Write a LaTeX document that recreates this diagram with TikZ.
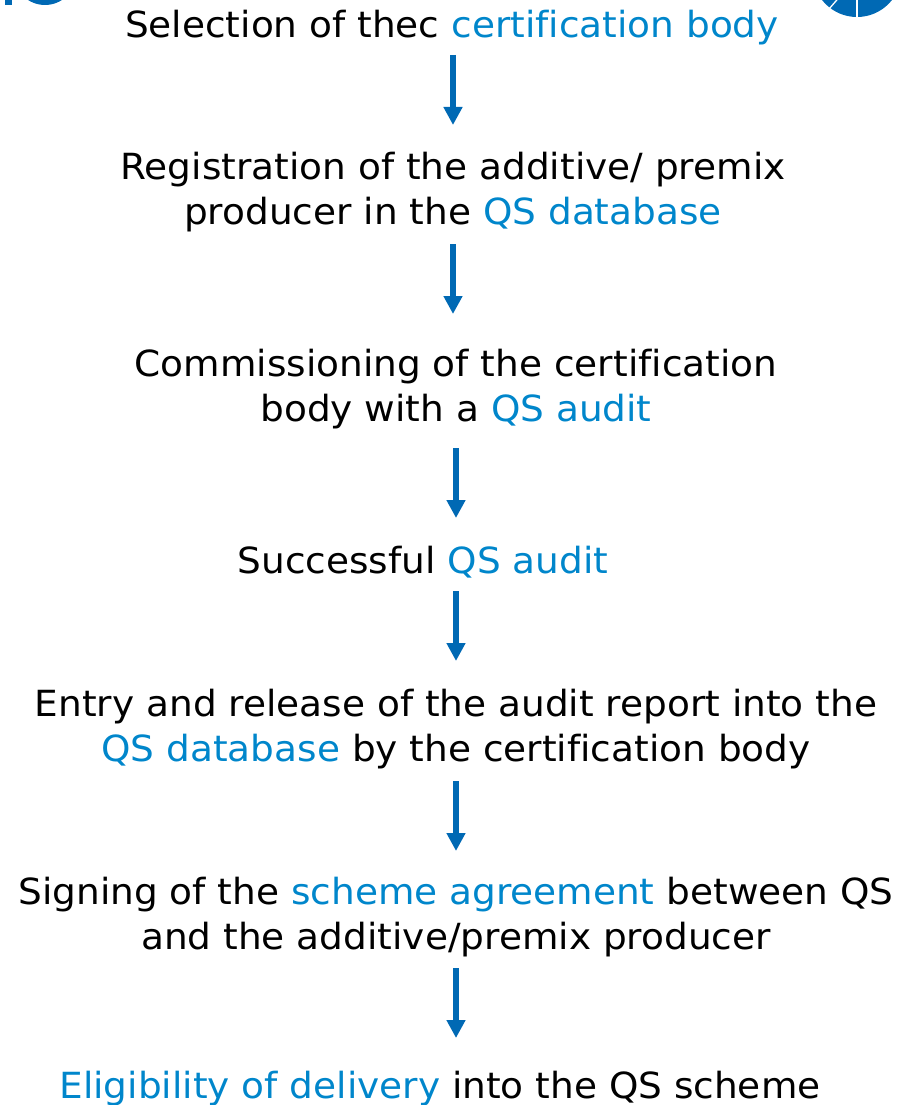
\documentclass[tikz,border=0pt]{standalone}
\usepackage{fontspec}
\setmainfont[FakeStretch=1.04,Ligatures=NoCommon]{DejaVu Sans}
\usetikzlibrary{arrows.meta}
\definecolor{linkblue}{HTML}{0086CB}
\definecolor{flowblue}{HTML}{0069B4}
\newcommand{\hl}[1]{\textcolor{linkblue}{#1}}
\tikzset{
  x=1pt,y=-1pt,
  steptext/.style={inner sep=0pt,outer sep=0pt,anchor=base,align=center,font=\fontsize{36}{45}\selectfont,text=black},
  flow/.style={draw=flowblue,line width=6pt,-{Triangle[length=18pt,width=18pt,fill=flowblue]}},
  logo/.style={fill=flowblue,draw=none}
}
\begin{document}
\begin{tikzpicture}
\useasboundingbox (0,0) rectangle (907,1105);
\begin{scope}
\clip (0,0) rectangle (907,1105);
\fill[logo] (5,-5) rectangle (12,5);
\fill[logo] (45,-26) circle (31);
\fill[logo] (857,-27.5) circle (44.5);
\draw[white,line width=1.3pt] (857,-5) -- (857,20);
\draw[white,line width=1.3pt] (829,9) -- (842,-6);
\end{scope}
\node[steptext] (n1) at (452,38) {Selection of thec \hl{certification body}};
\node[steptext] (n2) at (453,224.5) {Registration of the additive/ premix\\producer in the \hl{QS database}};
\node[steptext] (n3) at (456,421.5) {Commissioning of the certification\\body with a \hl{QS audit}};
\node[steptext] (n4) at (423,573) {Successful \hl{QS audit}};
\node[steptext] (n5) at (456,761.5) {Entry and release of the audit report into the\\\hl{QS database} by the certification body};
\node[steptext] (n6) at (456,949.5) {Signing of the \hl{scheme agreement} between QS\\and the additive/premix producer};
\node[steptext] (n7) at (440,1098) {\hl{Eligibility of delivery} into the QS scheme};
\coordinate (a1s) at (453,55); \coordinate (a1e) at (453,125);
\coordinate (a2s) at (453,244); \coordinate (a2e) at (453,314);
\coordinate (a3s) at (456,448); \coordinate (a3e) at (456,518);
\coordinate (a4s) at (456,591); \coordinate (a4e) at (456,661);
\coordinate (a5s) at (456,781); \coordinate (a5e) at (456,851);
\coordinate (a6s) at (456,968); \coordinate (a6e) at (456,1038);
\draw[flow] (a1s) -- (a1e);
\draw[flow] (a2s) -- (a2e);
\draw[flow] (a3s) -- (a3e);
\draw[flow] (a4s) -- (a4e);
\draw[flow] (a5s) -- (a5e);
\draw[flow] (a6s) -- (a6e);
\end{tikzpicture}
\end{document}
